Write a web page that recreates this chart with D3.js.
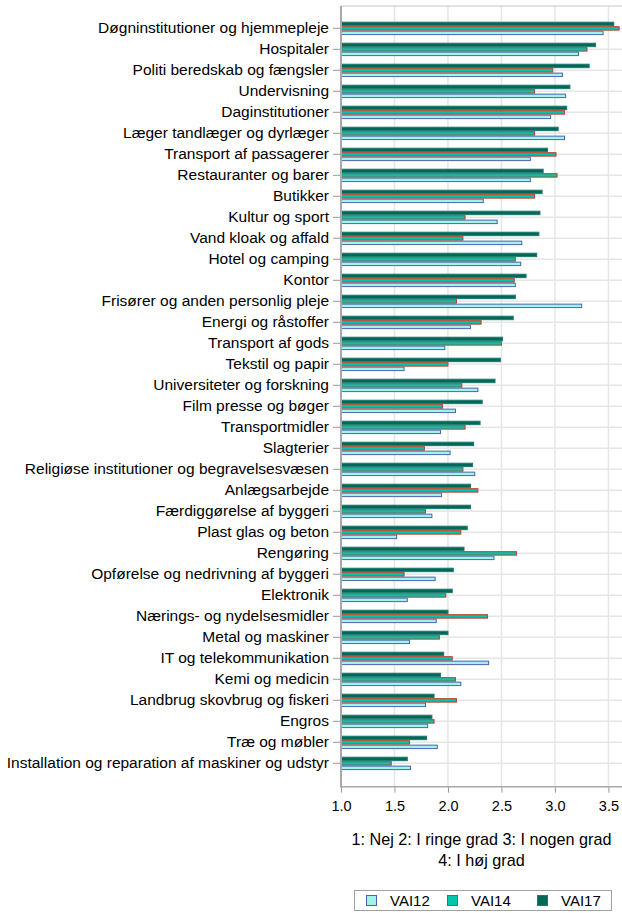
<!DOCTYPE html>
<html lang="da">
<head>
  <meta charset="UTF-8">
  <title>VAI12 / VAI14 / VAI17</title>
  <style>
    body { margin: 0; background: #fff; }
    svg { display: block; font-family: "Liberation Sans", Arial, sans-serif; }
  </style>
</head>
<body>
  <div id="chart"></div>

  <script src="https://d3js.org/d3.v7.min.js"></script>
  <script>
    const categories = [
      "Døgninstitutioner og hjemmepleje", "Hospitaler", "Politi beredskab og fængsler",
      "Undervisning", "Daginstitutioner", "Læger tandlæger og dyrlæger",
      "Transport af passagerer", "Restauranter og barer", "Butikker",
      "Kultur og sport", "Vand kloak og affald", "Hotel og camping",
      "Kontor", "Frisører og anden personlig pleje", "Energi og råstoffer",
      "Transport af gods", "Tekstil og papir", "Universiteter og forskning",
      "Film presse og bøger", "Transportmidler", "Slagterier",
      "Religiøse institutioner og begravelsesvæsen", "Anlægsarbejde", "Færdiggørelse af byggeri",
      "Plast glas og beton", "Rengøring", "Opførelse og nedrivning af byggeri",
      "Elektronik", "Nærings- og nydelsesmidler", "Metal og maskiner",
      "IT og telekommunikation", "Kemi og medicin", "Landbrug skovbrug og fiskeri",
      "Engros", "Træ og møbler", "Installation og reparation af maskiner og udstyr"
    ];

    const vai12 = [3.45, 3.22, 3.07, 3.10, 2.96, 3.09, 2.77, 2.77, 2.33, 2.46, 2.69, 2.68,
                   2.63, 3.25, 2.21, 1.97, 1.59, 2.28, 2.07, 1.93, 2.02, 2.25, 1.94, 1.85,
                   1.52, 2.43, 1.88, 1.62, 1.89, 1.64, 2.38, 2.12, 1.79, 1.81, 1.90, 1.65];
    const vai14 = [3.60, 3.30, 2.98, 2.81, 3.09, 2.81, 3.01, 3.02, 2.81, 2.16, 2.14, 2.63,
                   2.62, 2.08, 2.31, 2.50, 2.00, 2.13, 1.95, 2.16, 1.78, 2.14, 2.28, 1.79,
                   2.12, 2.64, 1.59, 1.98, 2.37, 1.92, 2.04, 2.07, 2.08, 1.87, 1.64, 1.47];
    const vai17 = [3.55, 3.38, 3.32, 3.14, 3.11, 3.03, 2.93, 2.89, 2.88, 2.86, 2.85, 2.83,
                   2.73, 2.63, 2.61, 2.51, 2.49, 2.44, 2.32, 2.30, 2.24, 2.23, 2.21, 2.21,
                   2.18, 2.15, 2.05, 2.04, 2.00, 2.00, 1.96, 1.93, 1.87, 1.85, 1.80, 1.62];

    const xTicks = [1.0, 1.5, 2.0, 2.5, 3.0, 3.5];
    const titleLines = ["1: Nej 2: I ringe grad 3: I nogen grad", "4: I høj grad"];

    const series = [
      { key: "VAI17", values: vai17, fill: "#006858", stroke: "#1f7a6c" },
      { key: "VAI14", values: vai14, fill: "#00c4ac", stroke: "#c0402c" },
      { key: "VAI12", values: vai12, fill: "#a2f2ea", stroke: "#4a64ac" }
    ];
    const legendOrder = ["VAI12", "VAI14", "VAI17"];

    const width = 622, height = 913;
    const plot = { left: 341, right: 622, top: 6, bottom: 786.7 };

    const svg = d3.select("#chart").append("svg")
      .attr("width", width)
      .attr("height", height);

    const x = d3.scaleLinear()
      .domain([1, 3.627])
      .range([plot.left, plot.right]);

    const y = d3.scaleBand()
      .domain(categories)
      .range([17.8, 773.8])
      .padding(0);

    const ySub = d3.scaleBand()
      .domain(series.map(s => s.key))
      .range([3.9, 17.3])
      .padding(0);

    // grid
    svg.append("g")
      .selectAll("line")
      .data(xTicks.slice(1))
      .join("line")
      .attr("x1", d => x(d)).attr("x2", d => x(d))
      .attr("y1", plot.top).attr("y2", plot.bottom)
      .attr("stroke", "#e6e6e6")
      .attr("stroke-width", 1.5);

    svg.append("g")
      .selectAll("line")
      .data(categories)
      .join("line")
      .attr("x1", plot.left).attr("x2", plot.right)
      .attr("y1", d => y(d) + y.bandwidth() / 2)
      .attr("y2", d => y(d) + y.bandwidth() / 2)
      .attr("stroke", "#e6e6e6")
      .attr("stroke-width", 1.5);

    svg.append("line")
      .attr("x1", plot.left).attr("x2", plot.right)
      .attr("y1", plot.top).attr("y2", plot.top)
      .attr("stroke", "#c8c8c8");

    // bars
    const groups = svg.append("g")
      .selectAll("g")
      .data(categories)
      .join("g")
      .attr("transform", d => `translate(0, ${y(d)})`);

    groups.selectAll("rect")
      .data((d, i) => series.map(s => ({ key: s.key, value: s.values[i], fill: s.fill, stroke: s.stroke })))
      .join("rect")
      .attr("x", x(1))
      .attr("y", d => ySub(d.key) + 0.5)
      .attr("width", d => x(d.value) - x(1))
      .attr("height", ySub.bandwidth() - 1)
      .attr("fill", d => d.fill)
      .attr("stroke", d => d.stroke)
      .attr("stroke-width", 1);

    // y axis
    const yAxis = d3.axisLeft(y).tickSize(8).tickPadding(4);
    const gy = svg.append("g")
      .attr("transform", `translate(${plot.left}, 0)`)
      .call(yAxis);
    gy.select(".domain").remove();
    gy.selectAll(".tick line").attr("stroke", "#999");
    gy.selectAll(".tick text")
      .attr("font-size", 15.5)
      .attr("fill", "#000");

    svg.append("line")
      .attr("x1", plot.left).attr("x2", plot.left)
      .attr("y1", plot.top).attr("y2", plot.bottom)
      .attr("stroke", "#a8a8a8")
      .attr("stroke-width", 2);

    // x axis
    const xAxis = d3.axisBottom(x)
      .tickValues(xTicks)
      .tickFormat(d3.format(".1f"))
      .tickSize(6)
      .tickPadding(8);
    const gx = svg.append("g")
      .attr("transform", `translate(0, ${plot.bottom})`)
      .call(xAxis);
    gx.select(".domain").remove();
    gx.selectAll(".tick line").attr("stroke", "#999");
    gx.selectAll(".tick text")
      .attr("font-size", 14.5)
      .attr("fill", "#000");

    svg.append("line")
      .attr("x1", plot.left - 1).attr("x2", plot.right)
      .attr("y1", plot.bottom).attr("y2", plot.bottom)
      .attr("stroke", "#a8a8a8")
      .attr("stroke-width", 1.5);

    // axis title
    const cx = (plot.left + plot.right) / 2;
    svg.append("g")
      .selectAll("text")
      .data(titleLines)
      .join("text")
      .attr("x", cx)
      .attr("y", (d, i) => 839 + i * 21)
      .attr("dy", "0.35em")
      .attr("text-anchor", "middle")
      .attr("font-size", 16.2)
      .text(d => d);

    // legend
    const legend = svg.append("g");
    legend.append("rect")
      .attr("x", 354.5).attr("y", 890.5)
      .attr("width", 257).attr("height", 20)
      .attr("fill", "#fff")
      .attr("stroke", "#a0a0a0");

    const legendX = [366, 447, 537];
    const items = legend.selectAll("g")
      .data(legendOrder.map(k => series.find(s => s.key === k)))
      .join("g")
      .attr("transform", (d, i) => `translate(${legendX[i]}, 895)`);
    items.append("rect")
      .attr("x", 0.5).attr("y", 0.5)
      .attr("width", 10).attr("height", 10)
      .attr("fill", d => d.fill)
      .attr("stroke", d => d.stroke);
    items.append("text")
      .attr("x", 24)
      .attr("y", 5.5)
      .attr("dy", "0.35em")
      .attr("font-size", 15)
      .text(d => d.key);
  </script>
</body>
</html>
